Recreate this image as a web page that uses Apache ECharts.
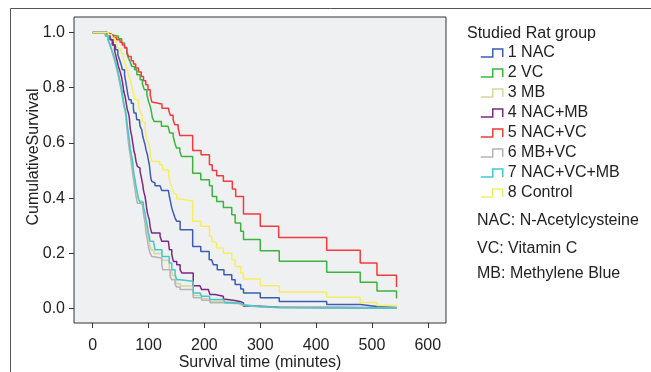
<!DOCTYPE html>
<html>
<head>
<meta charset="utf-8">
<script src="https://cdn.jsdelivr.net/npm/echarts@6/dist/echarts.min.js"></script>
<style>
  html, body { margin: 0; padding: 0; background: #fff; }
  #chart { width: 651px; height: 372px; }
</style>
</head>
<body>
<div id="chart"></div>
<script>
// Kaplan-Meier steps, [minutes, cumulative survival]
const nac = [[0,1],[26,0.99],[29,0.986],[33,0.974],[37,0.955],[41,0.937],[45,0.919],[48,0.901],[51,0.883],[53,0.865],[57,0.847],[59,0.823],[61,0.799],[63,0.774],[65,0.756],[69,0.744],[72.8,0.726],[74,0.708],[77.6,0.702],[78.8,0.684],[83.5,0.678],[84.8,0.66],[87.8,0.648],[89.6,0.624],[92,0.606],[93.7,0.594],[95.5,0.575],[98,0.557],[99.6,0.539],[101.4,0.521],[102.7,0.497],[104,0.473],[105.7,0.461],[108.6,0.455],[111.6,0.445],[120.6,0.44],[123.6,0.428],[135.5,0.425],[137.3,0.406],[139,0.39],[140.5,0.376],[141.6,0.364],[144.5,0.346],[147.5,0.328],[150.5,0.316],[156.5,0.286],[179,0.225],[193.5,0.207],[208.6,0.177],[213,0.171],[216,0.159],[223,0.141],[235,0.123],[249,0.105],[255,0.087],[265,0.071],[270,0.057],[300,0.039],[334,0.026],[419,0.015],[479,0.008],[509,0.004],[544,0.004]];
const vc = [[0,1],[25,0.995],[32,0.99],[37,0.986],[46,0.977],[52,0.962],[57,0.944],[61,0.925],[64,0.907],[67,0.893],[70,0.877],[75,0.865],[79,0.847],[85,0.829],[89,0.813],[92.5,0.793],[97,0.775],[100,0.75],[103,0.732],[105,0.714],[107,0.69],[110,0.678],[123,0.66],[135,0.654],[138,0.636],[144,0.624],[147,0.6],[150,0.582],[156,0.569],[159,0.551],[179,0.49],[193.5,0.467],[209,0.445],[214,0.406],[222,0.388],[234,0.366],[249,0.34],[255,0.31],[265,0.28],[270,0.25],[300,0.21],[334,0.172],[419,0.132],[479,0.096],[509,0.064],[544,0.037]];
const mb = [[0,1],[23,0.988],[28,0.972],[31,0.957],[34,0.938],[37,0.918],[40,0.9],[43,0.876],[46,0.851],[48,0.832],[50,0.808],[52,0.79],[54,0.765],[56,0.74],[58,0.718],[60,0.69],[61.5,0.665],[63,0.64],[65,0.61],[66.8,0.585],[68.5,0.56],[70,0.54],[71.7,0.515],[73,0.49],[75,0.465],[77,0.44],[80,0.41],[83,0.39],[89,0.372],[91,0.35],[94,0.325],[96,0.3],[98,0.275],[100,0.25],[102.7,0.225],[106,0.212],[110,0.2],[124,0.175],[137,0.14],[142,0.12],[148,0.1],[151,0.09],[157,0.082],[180,0.048],[195,0.037],[210,0.027],[234,0.022],[264,0.013],[270,0.007],[300,0.002],[544,0.001]];
const nacMb = [[0,1],[26,0.99],[31,0.974],[35,0.955],[39,0.937],[41,0.919],[44,0.895],[46,0.877],[49,0.859],[52,0.835],[54,0.811],[55.6,0.786],[58,0.768],[60,0.744],[62,0.72],[64,0.708],[65.6,0.69],[66.8,0.66],[68,0.642],[70,0.624],[71.7,0.6],[72.8,0.587],[74,0.569],[75.8,0.557],[77.6,0.533],[80,0.515],[83.5,0.509],[84.8,0.497],[86,0.485],[87.8,0.467],[89.6,0.449],[90.7,0.431],[92,0.419],[93.7,0.406],[95.5,0.382],[96.8,0.36],[98,0.346],[99.6,0.334],[101.4,0.322],[102.7,0.298],[104,0.286],[105.7,0.274],[120.6,0.262],[123.6,0.244],[135.5,0.238],[137.3,0.2135],[141.6,0.195],[144.5,0.171],[150.5,0.159],[156.5,0.141],[159.5,0.129],[180,0.083],[192,0.078],[195,0.069],[207,0.063],[210,0.051],[219,0.045],[234,0.035],[237,0.03],[252,0.026],[264,0.021],[270,0.009],[300,0.005],[334,0.003],[544,0.003]];
const nacVc = [[0,1],[24,0.995],[31,0.99],[37,0.982],[43,0.974],[49,0.965],[53,0.955],[57,0.946],[61,0.931],[64,0.913],[69,0.898],[73,0.886],[77,0.871],[82,0.857],[87,0.841],[91,0.825],[95,0.811],[99,0.793],[103,0.772],[106,0.748],[109,0.741],[124,0.726],[136,0.718],[139,0.7],[144,0.684],[147,0.666],[153,0.654],[156,0.627],[179,0.573],[194,0.557],[209,0.521],[214,0.5],[222,0.481],[234,0.461],[250,0.433],[256,0.406],[270,0.343],[300,0.298],[333,0.258],[419,0.211],[479,0.165],[509,0.121],[544,0.078]];
const mbVc = [[0,1],[22,0.99],[27,0.975],[30,0.96],[33,0.94],[36,0.92],[39,0.9],[42,0.875],[45,0.85],[47,0.83],[49.5,0.805],[51.5,0.785],[53.5,0.76],[55.5,0.735],[57.9,0.72],[59.7,0.684],[62,0.636],[63.9,0.6],[65.6,0.575],[68,0.545],[69.9,0.515],[71.7,0.485],[74,0.455],[75.8,0.431],[77.6,0.406],[80,0.382],[86,0.376],[89.6,0.37],[90.7,0.346],[93.7,0.31],[95.5,0.274],[97.9,0.25],[99.6,0.225],[102.7,0.2016],[105.7,0.189],[108.6,0.183],[123.6,0.159],[125.4,0.141],[138.5,0.117],[141.6,0.105],[147.5,0.087],[150.5,0.0785],[156.5,0.069],[180,0.039],[195,0.03],[210,0.021],[234,0.018],[264,0.011],[270,0.006],[300,0.002],[544,0.001]];
const nacVcMb = [[0,1],[23,0.986],[28,0.97],[31,0.955],[34,0.937],[37,0.919],[40,0.901],[43,0.877],[46,0.853],[47.7,0.835],[50.2,0.811],[52,0.793],[53.8,0.768],[55.6,0.744],[57.9,0.72],[59.7,0.708],[60.9,0.684],[62,0.66],[63.9,0.636],[65.6,0.612],[66.8,0.587],[68,0.569],[69.9,0.551],[71.7,0.527],[72.8,0.503],[74,0.485],[75.8,0.467],[77.6,0.443],[80,0.419],[81.7,0.4],[84.8,0.385],[90.7,0.37],[93.7,0.346],[95.5,0.322],[97.9,0.298],[99.6,0.274],[101.4,0.262],[102.7,0.244],[108.6,0.238],[111.6,0.2135],[124,0.189],[137,0.165],[141.6,0.141],[147.5,0.123],[150.5,0.105],[156.5,0.099],[180,0.057],[192,0.05],[195,0.0445],[209,0.038],[210,0.033],[234,0.026],[237,0.021],[264,0.0145],[270,0.008],[300,0.003],[334,0.001],[544,0.001]];
const control = [[0,1],[28,0.992],[34,0.98],[39,0.967],[43,0.955],[46,0.941],[51,0.925],[55,0.907],[58,0.889],[61,0.871],[64,0.847],[67,0.829],[70,0.805],[73,0.781],[76,0.756],[82,0.732],[85,0.714],[88,0.702],[89,0.678],[91,0.672],[94,0.648],[95.5,0.624],[98,0.606],[101,0.594],[103,0.564],[104,0.545],[106,0.533],[120,0.521],[124,0.515],[125.5,0.503],[136,0.479],[138.5,0.455],[141.6,0.44],[144.5,0.419],[147.5,0.413],[150.5,0.397],[156.5,0.39],[179,0.316],[193.5,0.298],[209,0.262],[213,0.245],[216,0.238],[222,0.22],[234,0.201],[249,0.177],[255,0.153],[265,0.129],[270,0.107],[300,0.083],[334,0.06],[419,0.041],[479,0.022],[509,0.011],[544,0.006]];

const groupNames = ['1 NAC', '2 VC', '3 MB', '4 NAC+MB', '5 NAC+VC', '6 MB+VC', '7 NAC+VC+MB', '8 Control'];
const groupData = [nac, vc, mb, nacMb, nacVc, mbVc, nacVcMb, control];
const groupColors = ['#3d5cb5', '#3cb43c', '#d6d6a0', '#7a2a84', '#f03c3c', '#b4b4b4', '#44c8cc', '#f5ee64'];

const xTicks = [0, 100, 200, 300, 400, 500, 600];
const yTicks = [0, 0.2, 0.4, 0.6, 0.8, 1.0];
const abbreviations = ['NAC: N-Acetylcysteine', 'VC: Vitamin C', 'MB: Methylene Blue'];

const font = "'Liberation Sans', Arial, sans-serif";
const ink = '#222';
const fs = 16;

const chart = echarts.init(document.getElementById('chart'));

const noteTops = [213, 241, 266];

chart.setOption({
  animation: false,
  textStyle: { fontFamily: font },
  title: [
    {
      text: 'Studied Rat group',
      left: 467, top: 26, padding: 0,
      textStyle: { fontSize: fs, fontWeight: 'normal', color: ink, fontFamily: font }
    },
    ...abbreviations.map((t, i) => ({
      text: t,
      left: 477, top: noteTops[i], padding: 0,
      textStyle: { fontSize: fs, fontWeight: 'normal', color: ink, fontFamily: font }
    }))
  ],
  graphic: [
    {
      type: 'polyline',
      shape: { points: [[10.5, 372], [10.5, 8.5], [651, 8.5]] },
      style: { stroke: '#555', lineWidth: 1, fill: null },
      silent: true
    }
  ],
  legend: {
    orient: 'vertical',
    left: 480, top: 45,
    padding: 0,
    itemWidth: 22, itemHeight: 8, itemGap: 4,
    selectedMode: false,
    icon: 'path://M0,8L12,8L12,0L22,0L22,8',
    textStyle: { fontSize: fs, color: ink, fontFamily: font },
    data: groupNames.map((n, i) => ({
      name: n,
      itemStyle: { color: 'rgba(0,0,0,0)', borderColor: groupColors[i], borderWidth: 1.5 }
    }))
  },
  grid: {
    left: 74, right: 205, top: 17, bottom: 49,
    outerBoundsMode: 'none',
    show: true,
    backgroundColor: '#eff0f2',
    borderColor: '#333',
    borderWidth: 1
  },
  xAxis: {
    type: 'value',
    min: -33.5, max: 632.6,
    name: 'Survival time (minutes)',
    nameLocation: 'middle',
    nameGap: 32,
    nameMoveOverlap: false,
    nameTextStyle: { fontSize: fs, color: ink, fontFamily: font },
    axisLine: { show: false, onZero: false },
    axisTick: { show: true, length: 5, customValues: xTicks, lineStyle: { color: '#333' } },
    axisLabel: { customValues: xTicks, fontSize: fs, color: ink, margin: 15, fontFamily: font },
    splitLine: { show: false }
  },
  yAxis: {
    type: 'value',
    min: -0.052, max: 1.056,
    name: 'CumulativeSurvival',
    nameLocation: 'middle',
    nameGap: 32,
    nameMoveOverlap: false,
    nameTextStyle: { fontSize: fs, color: ink, fontFamily: font, padding: [0, 0, 0, 26] },
    axisLine: { show: false, onZero: false },
    axisTick: { show: true, length: 5, customValues: yTicks, lineStyle: { color: '#333' } },
    axisLabel: {
      customValues: yTicks, fontSize: fs, color: ink, margin: 9, fontFamily: font,
      formatter: v => v.toFixed(1)
    },
    splitLine: { show: false }
  },
  series: groupNames.map((n, i) => ({
    name: n,
    type: 'line',
    step: 'end',
    data: groupData[i],
    showSymbol: false,
    symbol: 'none',
    color: groupColors[i],
    lineStyle: { color: groupColors[i], width: 1.5 }
  }))
});
</script>
</body>
</html>
